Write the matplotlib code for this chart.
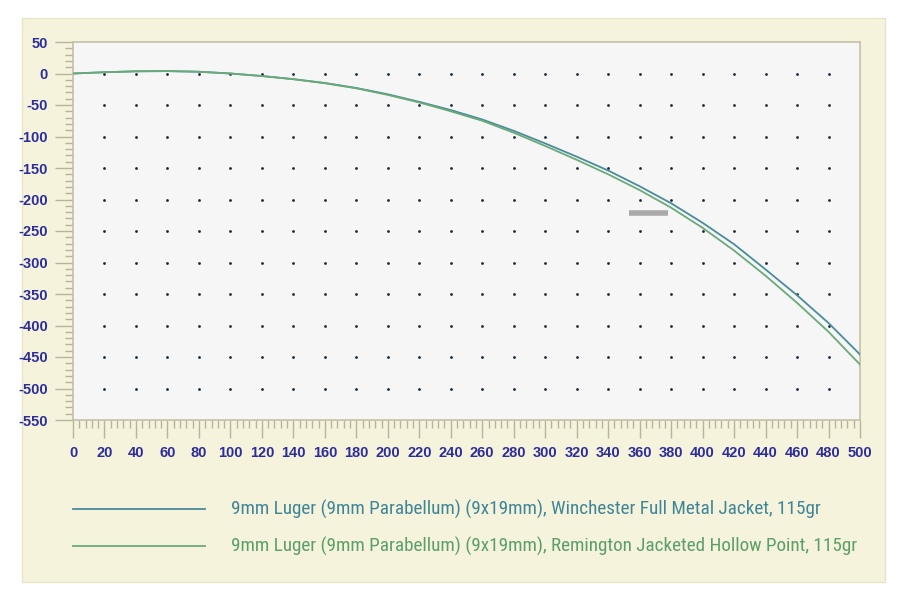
import numpy as np
import matplotlib.pyplot as plt
from matplotlib.lines import Line2D
from matplotlib.patches import Rectangle
from matplotlib.ticker import MultipleLocator
from matplotlib import font_manager

plt.rcParams['axes.unicode_minus'] = False

# Distancia (yardas) y trayectoria (pulgadas)
dist = [0, 20, 40, 60, 80, 100, 120, 140, 160, 180, 200, 220, 240, 260,
        280, 300, 320, 340, 360, 380, 400, 420, 440, 460, 480, 500]
winchester = [0, 2, 3.5, 3.8, 2.8, 0, -4, -9, -15, -23, -33, -45, -58, -73,
              -91, -111, -132, -154, -179, -206, -237, -271, -311, -352, -396, -446]
remington = [0, 2, 3.5, 3.8, 2.8, 0, -4, -9, -15.5, -23.5, -34, -46, -60, -75,
             -94, -115, -137, -160, -185, -213, -245, -281, -321, -364, -410, -462]
labels = ['9mm Luger (9mm Parabellum) (9x19mm), Winchester Full Metal Jacket, 115gr',
          '9mm Luger (9mm Parabellum) (9x19mm), Remington Jacketed Hollow Point, 115gr']
colors = ['#4a8c9c', '#6aaa78']
text_colors = ['#3e8597', '#5b9f68']

dot_x = np.arange(20, 481, 20)
dot_y = np.arange(0, -501, -50)

# fuente estrecha para la leyenda, si existe
narrow = None
for f in font_manager.fontManager.ttflist:
    if 'Narrow' in f.name or 'Condensed' in f.fname:
        narrow = f.fname
        if 'Liberation' in f.name and 'Narrow' in f.name and f.weight in (400, 'normal') and f.style == 'normal':
            break
legend_font = font_manager.FontProperties(fname=narrow, size=13.8) if narrow else \
    font_manager.FontProperties(family='DejaVu Sans', size=10.5)

fig = plt.figure(figsize=(9, 6), dpi=100)
fig.patch.set_facecolor('white')
fig.add_artist(Rectangle((22 / 900, 1 - 582 / 600), 863 / 900, 564 / 600,
                         transform=fig.transFigure, facecolor='#f6f3dc',
                         edgecolor='#e8e4c8', lw=1, zorder=0))

ax = fig.add_axes([73 / 900, 1 - 420 / 600, 787 / 900, 378 / 600])
ax.set_facecolor('#f6f6f6')
ax.set_xlim(0, 500)
ax.set_ylim(-550, 50)

# rejilla de puntos
gx, gy = np.meshgrid(dot_x, dot_y)
ax.scatter(gx.ravel(), gy.ravel(), s=4, color='#1a2a36', zorder=1, linewidths=0)

ax.plot(dist, winchester, color=colors[0], lw=1.3, zorder=3)
ax.plot(dist, remington, color=colors[1], lw=1.3, zorder=3)

# marca gris del original
ax.plot([353, 378], [-222, -222], color='#aaaaaa', lw=4, solid_capstyle='butt', zorder=2)

ax.xaxis.set_major_locator(MultipleLocator(20))
ax.xaxis.set_minor_locator(MultipleLocator(4))
ax.yaxis.set_major_locator(MultipleLocator(50))
ax.yaxis.set_minor_locator(MultipleLocator(10))
for s in ax.spines.values():
    s.set_color('#c4c0a8')
    s.set_linewidth(1.2)
ax.tick_params(which='both', direction='out', color='#b8b49c', labelcolor='#2c2c9c')
ax.tick_params(which='major', length=13, width=1)
ax.tick_params(which='minor', length=6, width=1)
ax.tick_params(axis='x', which='both', top=False, pad=6)
ax.tick_params(axis='y', which='both', right=False, pad=5)
for lab in ax.get_xticklabels() + ax.get_yticklabels():
    lab.set_fontfamily(['Liberation Sans', 'DejaVu Sans'])
    lab.set_fontweight('bold')
    lab.set_fontsize(10.5)

# leyenda
for i, (lab, c, tc) in enumerate(zip(labels, colors, text_colors)):
    yy = 1 - (509 + 37 * i) / 600
    fig.add_artist(Line2D([73 / 900, 205 / 900], [yy, yy], color=c, lw=1.3,
                          transform=fig.transFigure))
    fig.text(231 / 900, yy, lab, color=tc, va='center', fontproperties=legend_font)

fig.savefig('out.png', dpi=100, facecolor=fig.get_facecolor())
